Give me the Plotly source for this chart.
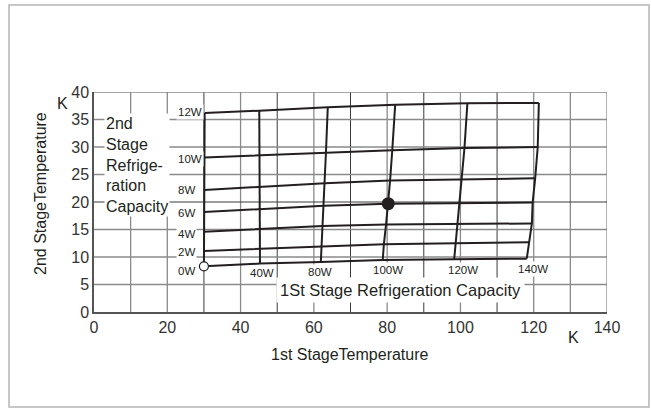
import plotly.graph_objects as go

# ---- data -------------------------------------------------------------
q1_labels = ["0W", "40W", "80W", "100W", "120W", "140W"]          # 1st stage capacity
q2_labels = ["0W", "2W", "4W", "6W", "8W", "10W", "12W"]          # 2nd stage capacity

# 1st stage temperature (K) at each intersection; rows = 2nd stage load, cols = 1st stage load
t1 = [
    [30.0, 45.3, 61.9, 78.8, 98.3, 118.1],
    [30.0, 45.3, 62.1, 79.1, 98.7, 118.8],
    [30.0, 45.2, 62.4, 79.7, 99.2, 119.5],
    [30.0, 45.2, 62.8, 80.3, 99.7, 119.7],
    [30.1, 45.2, 63.0, 80.8, 100.2, 120.4],
    [30.1, 45.1, 63.3, 81.4, 101.1, 121.1],
    [30.2, 45.1, 63.8, 82.2, 101.9, 121.4],
]
# 2nd stage temperature (K) at each intersection
t2 = [
    [8.3, 8.8, 9.1, 9.45, 9.6, 9.7],
    [11.1, 11.45, 11.85, 12.3, 12.5, 12.7],
    [14.6, 15.1, 15.65, 15.9, 16.0, 16.1],
    [18.2, 18.7, 19.3, 19.7, 19.8, 19.9],
    [22.2, 22.75, 23.4, 23.9, 24.15, 24.3],
    [28.1, 28.5, 29.0, 29.4, 29.8, 30.0],
    [36.2, 36.6, 37.25, 37.7, 37.95, 38.0],
]
rated_t1 = [80.3]
rated_t2 = [19.7]

x_ticks = [0, 20, 40, 60, 80, 100, 120, 140]
y_ticks = [0, 5, 10, 15, 20, 25, 30, 35, 40]
x_grid = [10, 20, 30, 40, 50, 60, 70, 80, 90, 100, 110, 120, 130, 140]
y_grid = [5, 10, 15, 20, 25, 30, 35, 40]

# ---- label positions (layout only) ------------------------------------
q2_label_x = 22.4
q2_label_y = [7.4, 10.9, 14.2, 18.0, 22.1, 27.9, 36.3]
q1_label_x = [None, 45.8, 61.7, 80.3, 100.8, 119.8]
q1_label_y = [None, 7.1, 7.3, 7.6, 7.6, 7.8]

FONT = "Liberation Sans, Arial, Helvetica, sans-serif"
INK = "#231f20"
dark_vertical = {30, 50, 70, 90, 110}

fig = go.Figure()

# rows: constant 2nd stage load
for i, lab in enumerate(q2_labels):
    fig.add_trace(go.Scatter(x=t1[i], y=t2[i], mode="lines",
                             line=dict(color=INK, width=2), hoverinfo="skip",
                             showlegend=False))
# columns: constant 1st stage load
for j, lab in enumerate(q1_labels):
    fig.add_trace(go.Scatter(x=[row[j] for row in t1], y=[row[j] for row in t2],
                             mode="lines", line=dict(color=INK, width=2),
                             hoverinfo="skip", showlegend=False))
# start point (open circle)
fig.add_trace(go.Scatter(x=[t1[0][0]], y=[t2[0][0]], mode="markers",
                         marker=dict(size=9, color="white", line=dict(color=INK, width=1.2)),
                         showlegend=False, hoverinfo="skip"))
# rated point
fig.add_trace(go.Scatter(x=rated_t1, y=rated_t2, mode="markers",
                         marker=dict(size=13, color=INK), showlegend=False, hoverinfo="skip"))

shapes = []
for gx in x_grid:
    dark = gx in dark_vertical
    shapes.append(dict(type="line", xref="x", yref="y", x0=gx, x1=gx, y0=0, y1=40,
                       layer="below",
                       line=dict(color="#3a3a3a" if dark else "#8a8a8a",
                                 width=1 if dark else 1.3)))
for gy in y_grid:
    shapes.append(dict(type="line", xref="x", yref="y", x0=0, x1=140, y0=gy, y1=gy,
                       layer="below",
                       line=dict(color="#3a3a3a" if gy == 20 else "#8a8a8a",
                                 width=1 if gy == 20 else 1.3)))
# outer frame of the figure
W, H = 651, 416
L, R, T, B = 94, 44, 92, 104
pw, ph = W - L - R, H - T - B
def px2paper(px, py):
    return (px - L) / pw, (H - B - py) / ph
fx0, fy1 = px2paper(9, 5)
fx1, fy0 = px2paper(649, 407)
shapes.append(dict(type="rect", xref="paper", yref="paper", x0=fx0, x1=fx1, y0=fy0, y1=fy1,
                   line=dict(color="#b5b5b5", width=1.5), layer="below"))

annotations = []
for lab, yy in zip(q2_labels, q2_label_y):
    annotations.append(dict(x=q2_label_x, y=yy, xref="x", yref="y", text=lab,
                            showarrow=False, xanchor="left", yanchor="middle",
                            font=dict(family=FONT, size=11.5, color=INK),
                            bgcolor="white", borderpad=1))
for lab, xx, yy in zip(q1_labels, q1_label_x, q1_label_y):
    if xx is None:
        continue
    annotations.append(dict(x=xx, y=yy, xref="x", yref="y", text=lab,
                            showarrow=False, xanchor="center", yanchor="middle",
                            font=dict(family=FONT, size=11.5, color=INK),
                            bgcolor="white", borderpad=1))
annotations.append(dict(x=2.6, y=26.7, xref="x", yref="y",
                        text="2nd<br>Stage<br>Refrige-<br>ration<br>Capacity",
                        showarrow=False, xanchor="left", yanchor="middle", align="left",
                        font=dict(family=FONT, size=16, color=INK),
                        bgcolor="white", borderpad=1))
annotations.append(dict(x=83.7, y=4.0, xref="x", yref="y",
                        text="1St Stage Refrigeration Capacity",
                        showarrow=False, xanchor="center", yanchor="middle",
                        font=dict(family=FONT, size=16.5, color=INK),
                        bgcolor="white", borderpad=3))
# axis titles and unit marks
fx, fy = px2paper(350, 354)
annotations.append(dict(x=fx, y=fy, xref="paper", yref="paper", text="1st StageTemperature",
                        showarrow=False, xanchor="center", yanchor="middle",
                        font=dict(family=FONT, size=16, color=INK)))
fx, fy = px2paper(40, 194)
annotations.append(dict(x=fx, y=fy, xref="paper", yref="paper", text="2nd StageTemperature",
                        showarrow=False, xanchor="center", yanchor="middle", textangle=-90,
                        font=dict(family=FONT, size=16, color=INK)))
fx, fy = px2paper(62, 103)
annotations.append(dict(x=fx, y=fy, xref="paper", yref="paper", text="K",
                        showarrow=False, xanchor="center", yanchor="middle",
                        font=dict(family=FONT, size=16, color=INK)))
fx, fy = px2paper(573, 337)
annotations.append(dict(x=fx, y=fy, xref="paper", yref="paper", text="K",
                        showarrow=False, xanchor="center", yanchor="middle",
                        font=dict(family=FONT, size=16, color=INK)))

fig.update_layout(
    width=W, height=H,
    margin=dict(l=L, r=R, t=T, b=B, pad=0),
    paper_bgcolor="white", plot_bgcolor="white",
    shapes=shapes, annotations=annotations,
    xaxis=dict(range=[0, 140], tickvals=x_ticks, showgrid=False, zeroline=False,
               showline=True, linecolor="#555555", linewidth=1.5, ticks="",
               tickfont=dict(family=FONT, size=16, color="#333333")),
    yaxis=dict(range=[0, 40], tickvals=y_ticks, showgrid=False, zeroline=False,
               showline=True, linecolor="#555555", linewidth=1.5, ticks="",
               tickfont=dict(family=FONT, size=16, color="#333333")),
)

fig.write_html("out.html", config={"displayModeBar": False},
               post_script="document.body.style.margin='0';document.body.style.overflow='hidden';")
